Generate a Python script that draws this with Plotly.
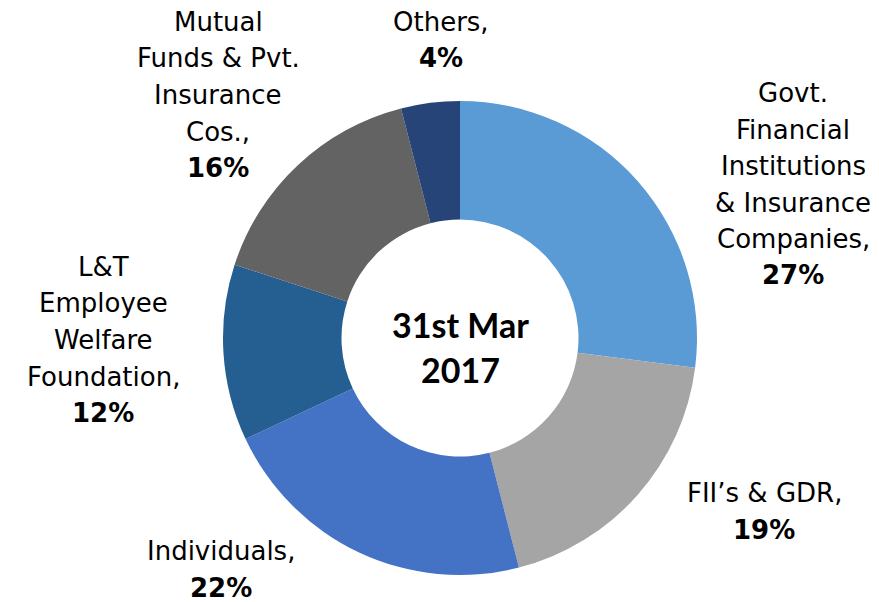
import plotly.graph_objects as go

# shareholding pattern, clockwise from 12 o'clock
categories = ["Govt. Financial Institutions & Insurance Companies", "FII's & GDR",
              "Individuals", "L&T Employee Welfare Foundation",
              "Mutual Funds & Pvt. Insurance Cos.", "Others"]
shares = [27, 19, 22, 12, 16, 4]
colors = ["#5B9BD5", "#A5A5A5", "#4472C4", "#255E91", "#636363", "#264478"]

# how each outside label is broken into lines
label_lines = [
    ["Govt.", "Financial", "Institutions", "& Insurance", "Companies,"],
    ["FII\u2019s & GDR,"],
    ["Individuals,"],
    ["L&T", "Employee", "Welfare", "Foundation,"],
    ["Mutual", "Funds & Pvt.", "Insurance", "Cos.,"],
    ["Others,"],
]
# page pixel position of first line (centre x, y from top)
label_pos = [(793, 93), (764, 493), (221, 551), (103, 267), (218, 22), (441, 22)]
center_lines = ["31st Mar", "2017"]

# the html body has an 8px margin, so work in page pixels and shift
OFF = 8
W, H = 879 - OFF, 602 - OFF
cx, cy, r = 460 - OFF, 338 - OFF, 237
line_gap = 36.5


def px_x(x):
    return (x - OFF) / W


def px_y(y):
    return 1 - (y - OFF) / H


fig = go.Figure(go.Pie(
    labels=categories,
    values=shares,
    hole=0.5,
    sort=False,
    direction="clockwise",
    rotation=0,
    marker=dict(colors=colors, line=dict(width=0)),
    textinfo="none",
    hoverinfo="label+percent",
    domain=dict(x=[(cx - r) / W, (cx + r) / W],
                y=[(H - cy - r) / H, (H - cy + r) / H]),
))

anns = []
label_font = dict(family="DejaVu Sans", size=26, color="#000000")
for lines, val, (x, y) in zip(label_lines, shares, label_pos):
    texts = lines + [f"<b>{val}%</b>"]
    for i, t in enumerate(texts):
        anns.append(dict(x=px_x(x), y=px_y(y + i * line_gap), xref="paper", yref="paper",
                         text=t, showarrow=False, font=label_font,
                         xanchor="center", yanchor="middle"))

for i, t in enumerate(center_lines):
    anns.append(dict(x=px_x(460), y=px_y(324 + i * 45), xref="paper", yref="paper",
                     text=f"<b>{t}</b>", showarrow=False,
                     font=dict(family="Lato", size=34, color="#000000"),
                     xanchor="center", yanchor="middle"))

fig.update_layout(
    width=W, height=H,
    margin=dict(l=0, r=0, t=0, b=0),
    paper_bgcolor="white",
    plot_bgcolor="white",
    showlegend=False,
    annotations=anns,
)

fig.write_html("out.html")
